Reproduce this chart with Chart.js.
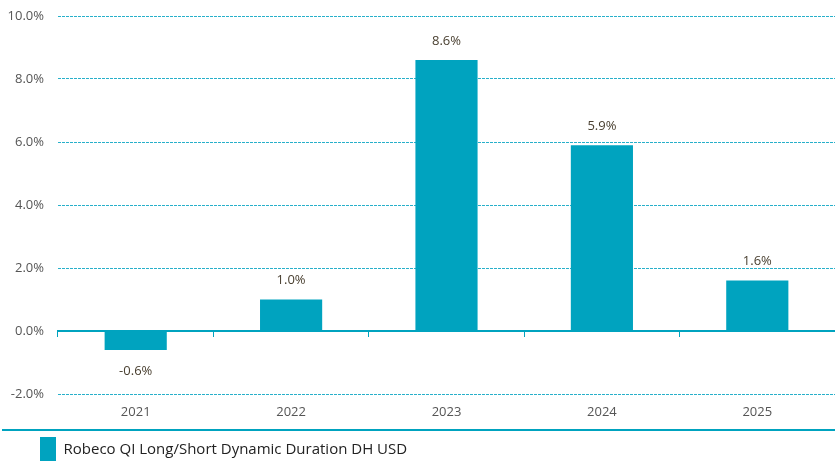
<!DOCTYPE html>
<html>
<head>
<meta charset="utf-8">
<script src="https://cdn.jsdelivr.net/npm/chart.js@4/dist/chart.umd.min.js"></script>
<style>
html,body{margin:0;padding:0;background:#fff;}
#wrap{width:835px;height:461px;}
</style>
</head>
<body>
<div id="wrap"><canvas id="c" width="835" height="461"></canvas></div>
<script>
const categories = ["2021", "2022", "2023", "2024", "2025"];
const seriesName = "Robeco QI Long/Short Dynamic Duration DH USD";
const seriesValues = [-0.6, 1.0, 8.6, 5.9, 1.6];
const yTicks = [-2, 0, 2, 4, 6, 8, 10];

const TEAL = "#00a3bf";
const GRID = "rgb(40,176,202)";
const FONT = "'Open Sans', 'Noto Sans', sans-serif";

const valueLabels = {
  id: "valueLabels",
  afterDatasetsDraw(chart) {
    const ctx = chart.ctx;
    const meta = chart.getDatasetMeta(0);
    ctx.save();
    ctx.font = "13px " + FONT;
    ctx.fillStyle = "#4a4031";
    ctx.textAlign = "center";
    ctx.textBaseline = "middle";
    meta.data.forEach((bar, i) => {
      const v = seriesValues[i];
      const y = v >= 0 ? bar.y - 19 : bar.y + 21;
      ctx.fillText(v.toFixed(1) + "%", bar.x, y);
    });
    ctx.restore();
  }
};

const legendShift = {
  id: "legendShift",
  afterLayout(chart) {
    chart.legend.left += 34;
  }
};

const separator = {
  id: "separator",
  afterDraw(chart) {
    const ctx = chart.ctx;
    const lg = chart.legend;
    ctx.save();
    ctx.strokeStyle = TEAL;
    ctx.lineWidth = 2;
    ctx.beginPath();
    const y = lg.top - 1;
    ctx.moveTo(2, y);
    ctx.lineTo(chart.width, y);
    ctx.stroke();
    ctx.restore();
  }
};

new Chart(document.getElementById("c"), {
  type: "bar",
  data: {
    labels: categories,
    datasets: [{
      label: seriesName,
      data: seriesValues,
      backgroundColor: TEAL,
      borderWidth: 0,
      barPercentage: 0.4,
      categoryPercentage: 1.0,
      xAxisID: "x"
    }]
  },
  options: {
    responsive: false,
    animation: false,
    layout: { padding: { top: 16, left: 0, right: 0, bottom: -12 } },
    plugins: {
      tooltip: { enabled: false },
      legend: {
        position: "bottom",
        align: "start",
        labels: {
          boxWidth: 16,
          boxHeight: 26,
          padding: 6,
          color: "#222",
          font: { family: FONT, size: 15 },
          useBorderRadius: false
        }
      }
    },
    scales: {
      x: {
        position: "bottom",
        afterFit(scale) { scale.height = 37; },
        grid: { display: false, drawTicks: false },
        border: { display: false },
        ticks: { color: "#555", font: { family: FONT, size: 13 }, padding: 10 }
      },
      x2: {
        type: "category",
        labels: categories,
        position: { y: 0 },
        offset: true,
        grid: { display: true, drawOnChartArea: false, drawTicks: true, tickLength: 5, color: TEAL, offset: true },
        border: { display: true, color: TEAL, width: 2 },
        ticks: { display: false }
      },
      y: {
        min: -2,
        max: 10,
        afterFit(scale) { scale.width = 58; scale.paddingTop = 0; scale.paddingBottom = 0; },
        afterBuildTicks(scale) { scale.ticks = yTicks.map(v => ({ value: v })); },
        grid: { color: GRID, drawTicks: false, lineWidth: 1 },
        border: { display: false, dash: [3, 1] },
        ticks: {
          color: "#555",
          font: { family: FONT, size: 13 },
          padding: 14,
          callback: v => v.toFixed(1) + "%"
        }
      }
    }
  },
  plugins: [valueLabels, legendShift, separator]
});
</script>
</body>
</html>
